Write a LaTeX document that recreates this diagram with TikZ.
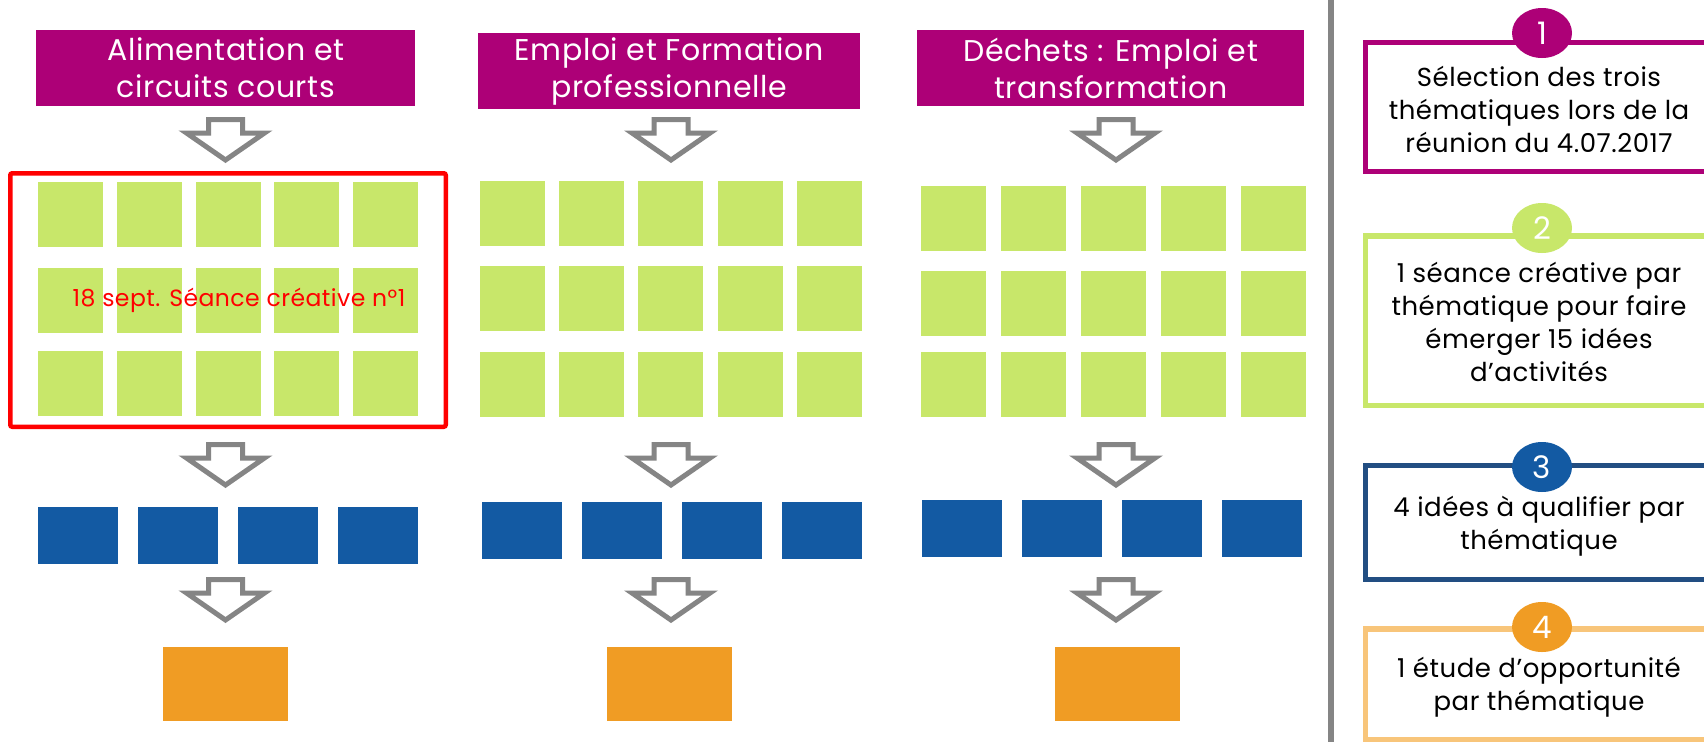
\documentclass[tikz,border=0pt]{standalone}
\usepackage{fontspec}
\setmainfont{Poppins}[LetterSpace=2]
\usetikzlibrary{shapes.geometric}
\definecolor{plum}{HTML}{AD0077}
\definecolor{lime}{HTML}{C8E76A}
\definecolor{royal}{HTML}{135AA3}
\definecolor{navy}{HTML}{224E82}
\definecolor{amber}{HTML}{F09C24}
\definecolor{peach}{HTML}{F8C57A}
\definecolor{slate}{HTML}{858585}
\definecolor{alarm}{HTML}{FF0000}
\begin{document}
\begin{tikzpicture}[x=1pt,y=-1pt,
  titlebox/.style={fill=plum,text=white,inner sep=0pt,anchor=north west,
    align=center,font=\fontsize{30}{37}\selectfont},
  idea/.style={fill=lime,inner sep=0pt,minimum width=65pt,minimum height=65pt,anchor=north west},
  pick/.style={fill=royal,inner sep=0pt,minimum width=80pt,minimum height=57pt,anchor=north west},
  study/.style={fill=amber,inner sep=0pt,minimum width=125pt,minimum height=74pt,anchor=north west},
  flowarrow/.style={draw=slate,fill=white,line width=5pt,line join=miter},
  stagebox/.style={line width=5.5pt},
  stagetext/.style={align=center,text=black,font=\fontsize{26}{33}\selectfont,inner sep=0pt},
  badge/.style={ellipse,inner sep=0pt,minimum width=60pt,minimum height=50pt,
    text=white,font=\fontsize{31}{31}\selectfont}]

\useasboundingbox (0,0) rectangle (1704,742);
\clip (0,0) rectangle (1704,742);
\fill[white] (0,0) rectangle (1704,742);

% block arrow pointing down, (#1,#2) = top centre of the shaft
\newcommand{\downarrowat}[2]{%
  \draw[flowarrow] (#1-17,#2+2.5) -- (#1+17,#2+2.5) -- (#1+17,#2+16) -- (#1+39,#2+16)
    -- (#1,#2+43) -- (#1-39,#2+16) -- (#1-17,#2+16) -- cycle;}

% column titles
\node[titlebox,minimum width=379pt,minimum height=76pt] (t1) at (36,30)
  {Alimentation et\\circuits courts};
\node[titlebox,minimum width=382pt,minimum height=76pt] (t2) at (478,33)
  {Emploi et Formation\\professionnelle};
\node[titlebox,minimum width=387pt,minimum height=76pt] (t3) at (917,30)
  {Déchets : Emploi et\\transformation};

% arrows between stages
\downarrowat{225.5}{117}
\downarrowat{671}{117}
\downarrowat{1116}{117}
\downarrowat{225.5}{442}
\downarrowat{671}{442}
\downarrowat{1116}{442}
\downarrowat{225.5}{577}
\downarrowat{671}{577}
\downarrowat{1116}{577}

% fifteen ideas per theme
\foreach \x [count=\i] in {38,117,196,274,353}
  \foreach \y [count=\j] in {182,268,351}
    \node[idea] (a-\j-\i) at (\x,\y) {};
\foreach \x [count=\i] in {480,559,638,718,797}
  \foreach \y [count=\j] in {181,266,352}
    \node[idea] (b-\j-\i) at (\x,\y) {};
\foreach \x [count=\i] in {921,1001,1081,1161,1241}
  \foreach \y [count=\j] in {186,271,352}
    \node[idea] (c-\j-\i) at (\x,\y) {};

% first creative session
\draw[alarm,line width=4.5pt,rounded corners=2pt] (10.25,173.25) rectangle (445.75,426.75);
\node[text=alarm,font=\fontsize{23.5}{23.5}\selectfont,inner sep=0pt] (session) at (239,300)
  {18 sept. Séance créative n°1};

% four ideas to qualify
\foreach \x [count=\i] in {38,138,238,338}
  \node[pick] (qa-\i) at (\x,507) {};
\foreach \x [count=\i] in {482,582,682,782}
  \node[pick] (qb-\i) at (\x,502) {};
\foreach \x [count=\i] in {922,1022,1122,1222}
  \node[pick] (qc-\i) at (\x,500) {};

% opportunity studies
\node[study] (sa) at (163,647) {};
\node[study] (sb) at (607,647) {};
\node[study] (sc) at (1055,647) {};

% separator
\draw[slate,line width=6pt] (1331,0) -- (1331,742);

% legend of the four stages
\draw[stagebox,plum]  (1365.5,42.5) rectangle (1720,171.5);
\draw[stagebox,lime]  (1365.5,236) rectangle (1720,405.5);
\draw[stagebox,navy]  (1365.5,465.5) rectangle (1720,579.5);
\draw[stagebox,peach] (1365.5,629) rectangle (1720,739.5);

\node[badge,fill=plum]  (n1) at (1542,33)  {1};
\node[badge,fill=lime]  (n2) at (1542,228) {2};
\node[badge,fill=royal] (n3) at (1542,467) {3};
\node[badge,fill=amber] (n4) at (1542,627) {4};

\node[stagetext] (l1) at (1539,109)
  {Sélection des trois\\thématiques lors de la\\réunion du 4.07.2017};
\node[stagetext] (l2) at (1539,322)
  {1 séance créative par\\thématique pour faire\\émerger 15 idées\\d’activités};
\node[stagetext] (l3) at (1539,526)
  {4 idées à qualifier par\\thématique};
\node[stagetext] (l4) at (1539,687)
  {1 étude d’opportunité\\par thématique};

\end{tikzpicture}
\end{document}
